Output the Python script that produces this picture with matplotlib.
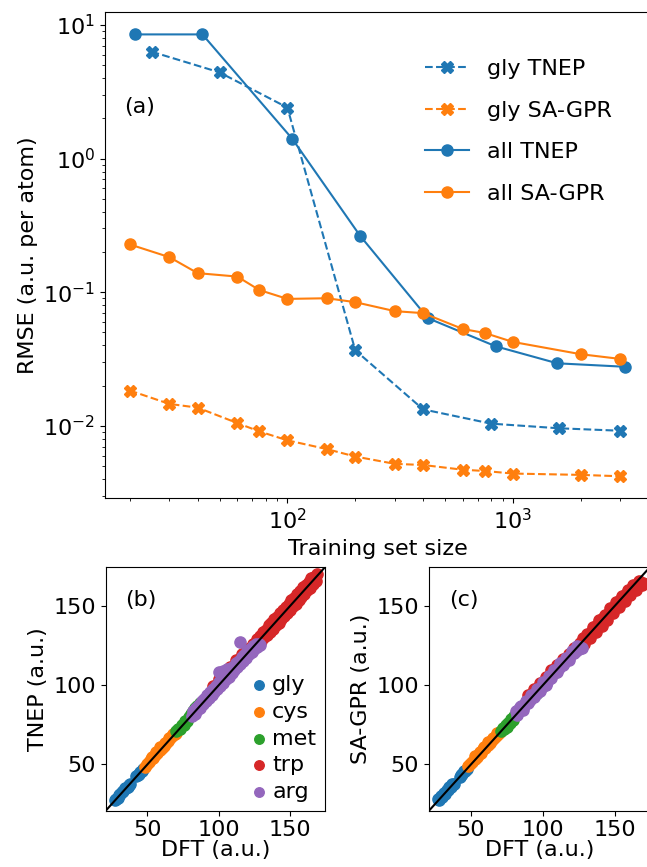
import numpy as np
import matplotlib.pyplot as plt

# ---- (a) learning curves ----
n_gly_tnep = [25, 50, 100, 200, 400, 800, 1600, 3000]
rmse_gly_tnep = [6.31, 4.42, 2.41, 0.0368, 0.0133, 0.0104, 0.0096, 0.0092]

n_all_tnep = [21, 42, 105, 210, 420, 840, 1575, 3150]
rmse_all_tnep = [8.5, 8.5, 1.41, 0.265, 0.064, 0.0394, 0.0294, 0.0277]

n_sagpr = [20, 30, 40, 60, 75, 100, 150, 200, 300, 400, 600, 750, 1000, 2000, 3000]
rmse_gly_sagpr = [0.0184, 0.0146, 0.0137, 0.0105, 0.0091, 0.0078, 0.0067, 0.0059,
                  0.0052, 0.0051, 0.0047, 0.0046, 0.0044, 0.0043, 0.0042]
rmse_all_sagpr = [0.228, 0.183, 0.139, 0.131, 0.104, 0.0892, 0.0902, 0.0843,
                  0.0722, 0.0698, 0.0531, 0.0496, 0.0425, 0.0344, 0.0317]

# ---- (b) TNEP parity ----
gly_dft = [27, 28, 29, 30, 31, 32, 33, 34, 35, 36, 37, 38, 42, 43, 44, 45, 46, 47]
gly_tnep = [27.4, 28.3, 28.6, 30.5, 31.2, 32.6, 33.1, 34.8, 35.2, 35.7, 36.8, 37.5,
            42.6, 43.2, 43.8, 45.4, 45.7, 46.9]
cys_dft = [48, 49.5, 51, 52.5, 54, 55.5, 57, 58.5, 60, 61.5, 63, 64.5, 66, 67.5, 69, 70,
           53, 56, 59, 62, 65, 68]
cys_tnep = [48.6, 50.3, 51.2, 53.4, 54.3, 56.2, 57.4, 59.1, 60.6, 61.8, 63.7, 64.9,
            66.6, 67.8, 69.4, 69.9,
            54.9, 57.8, 60.7, 63.6, 66.5, 69.2]
met_dft = [70, 71.5, 73, 74, 75.5, 76.5, 78, 79, 80.5, 82, 83.5, 85, 87]
met_tnep = [71.2, 72.3, 72.6, 74.9, 75.1, 77.4, 77.6, 79.8, 81.9, 83.6, 85.4, 86.8, 89.0]
trp_dft = [96, 100, 104, 108, 112, 116, 120, 124,
           127, 129, 131, 133, 135, 137, 139, 141, 143, 145, 147, 149, 151, 153, 155,
           157, 159, 161, 163, 165, 167, 169,
           128, 130, 132, 134, 136, 138, 140, 142, 144, 146, 148, 150, 152, 154, 156,
           158, 160, 162, 164, 166, 168]
trp_tnep = [99.5, 103.8, 107.6, 111.2, 116.0, 119.5, 122.8, 126.2,
            129.0, 131.2, 133.5, 135.1, 137.8, 139.3, 141.6, 143.2, 145.9, 147.4, 149.7,
            151.1, 153.8, 155.2, 157.6, 159.3, 161.8, 163.0, 165.4, 167.5, 168.2, 170.1,
            126.4, 127.9, 130.2, 131.6, 133.8, 135.5, 137.9, 139.6, 141.8, 143.5, 145.7,
            147.4, 149.9, 151.3, 153.6, 155.8, 157.4, 159.9, 161.6, 163.8, 165.9]
arg_dft = [81, 83, 85, 87, 89, 91, 93, 95, 97, 99, 101, 103, 105, 107, 109, 111, 113,
           115, 117, 119, 121, 123, 125, 127, 129,
           82, 84, 86, 88, 90, 92, 94, 96, 98, 100, 102, 104, 106, 108, 110, 112, 114,
           116, 118, 120, 122, 124, 126, 128,
           100.5, 103, 106, 108.5, 115]
arg_tnep = [80.6, 82.1, 84.3, 85.9, 88.2, 89.8, 92.1, 93.6, 96.0, 97.7, 99.8, 101.5,
            103.9, 105.4, 107.7, 109.6, 111.8, 113.4, 115.6, 117.3, 119.5, 120.9, 122.8,
            124.1, 125.4,
            83.6, 85.8, 87.4, 89.9, 91.5, 93.8, 95.4, 97.9, 99.6, 102.1, 103.8, 106.2,
            107.6, 109.8, 111.7, 113.9, 115.4, 117.6, 119.2, 121.3, 122.9, 124.6, 125.8,
            126.3,
            108.4, 109.2, 110.3, 111.0, 127.0]

# ---- (c) SA-GPR parity ----
gly2_dft = [27, 28, 29, 30, 31, 32, 33, 34, 35, 36, 37, 38, 42, 43, 44, 45, 46, 47]
gly2_sagpr = [27.8, 27.6, 29.8, 29.6, 31.8, 31.5, 33.7, 33.6, 35.8, 35.5, 37.5, 37.6,
              41.8, 43.5, 43.6, 45.7, 45.5, 47.3]
cys2_dft = [48, 49.5, 51, 52.5, 54, 55.5, 57, 58.5, 60, 61.5, 63, 64.5, 66, 67.5, 69, 70,
            53, 56, 59, 62, 65, 68]
cys2_sagpr = [48.8, 50.4, 51.6, 53.6, 54.5, 56.6, 57.4, 59.6, 60.3, 62.4, 63.5, 65.4,
              66.5, 68.2, 69.3, 70.4,
              55.1, 58.0, 60.8, 63.9, 66.7, 69.6]
met2_dft = [71, 72, 73, 74, 75, 76, 77, 78, 79, 80, 82, 88, 92, 96, 100]
met2_sagpr = [70.9, 72.8, 72.5, 74.8, 73.9, 76.4, 76.2, 78.5, 77.8, 80.4, 81.6, 89.4,
              92.6, 95.1, 99.2]
trp2_dft = [90, 94, 98, 102, 106, 110, 114, 118, 122, 126, 128, 130, 132, 134, 136, 138,
            140, 142, 144, 146, 148, 150, 152, 154, 156, 158, 160, 162, 164, 166, 168, 170,
            129, 133, 137, 141, 145, 149, 153, 157, 161, 165, 169,
            131, 135, 139, 143, 147, 151, 155, 159, 163, 167]
trp2_sagpr = [93.5, 97.6, 101.2, 105.4, 109.3, 112.8, 116.4, 119.8, 123.6, 126.9, 129.5,
              129.8, 131.6, 134.3, 135.8, 137.9, 139.6, 142.2, 143.4, 145.9, 147.3, 149.8,
              150.9, 153.6, 155.1, 157.4, 158.6, 160.7, 161.9, 163.3, 164.1, 164.8,
              126.0, 129.8, 133.4, 137.6, 141.2, 145.5, 149.3, 153.0, 156.8, 160.4, 163.5,
              132.6, 136.8, 140.9, 144.6, 148.7, 152.3, 156.2, 160.1, 163.4, 166.0]
arg2_dft = [81, 83, 85, 87, 89, 91, 93, 95, 97, 99, 101, 103, 105, 107, 109, 111, 113,
            115, 117, 119, 121, 123, 125, 127,
            82, 86, 90, 94, 98, 102, 106, 110, 114, 118, 122, 126,
            84, 88, 92, 96, 100, 104, 108, 112, 116, 120, 124]
arg2_sagpr = [83.4, 84.1, 86.6, 86.8, 89.9, 90.7, 93.6, 94.3, 97.5, 98.2, 101.4, 102.3,
              104.6, 107.5, 108.4, 110.6, 113.3, 114.2, 116.8, 118.5, 120.2, 121.9,
              122.8, 123.6,
              80.9, 84.6, 88.7, 92.4, 96.5, 100.3, 104.4, 108.6, 112.5, 116.2, 120.3, 123.9,
              86.1, 89.8, 94.0, 97.7, 101.9, 105.8, 109.6, 113.8, 117.4, 121.6, 125.0]

plt.rcParams['font.size'] = 16

fig = plt.figure(figsize=(6.47, 8.67), dpi=100)

# top panel
ax = fig.add_axes([0.1623, 0.4252, 0.8423, 0.5606])
ax.plot(n_gly_tnep, rmse_gly_tnep, 'X--', color='tab:blue', markersize=9, label='gly TNEP')
ax.plot(n_sagpr, rmse_gly_sagpr, 'X--', color='tab:orange', markersize=9, label='gly SA-GPR')
ax.plot(n_all_tnep, rmse_all_tnep, 'o-', color='tab:blue', markersize=8, label='all TNEP')
ax.plot(n_sagpr, rmse_all_sagpr, 'o-', color='tab:orange', markersize=8, label='all SA-GPR')
ax.set_xscale('log')
ax.set_yscale('log')
ax.set_xlabel('Training set size')
ax.set_ylabel('RMSE (a.u. per atom)')
ax.text(0.035, 0.805, '(a)', transform=ax.transAxes, va='center')
ax.legend(loc='upper left', bbox_to_anchor=(0.55, 0.945), frameon=False,
          labelspacing=0.97, handlelength=2.0)

colors = ['tab:blue', 'tab:orange', 'tab:green', 'tab:red', 'tab:purple']
names = ['gly', 'cys', 'met', 'trp', 'arg']
lims = (20.7, 174.6)

panels = [
    ([0.1634, 0.0649, 0.339, 0.281], 'TNEP (a.u.)', '(b)',
     [(gly_dft, gly_tnep), (cys_dft, cys_tnep), (met_dft, met_tnep),
      (trp_dft, trp_tnep), (arg_dft, arg_tnep)]),
    ([0.663, 0.0649, 0.3416, 0.281], 'SA-GPR (a.u.)', '(c)',
     [(gly2_dft, gly2_sagpr), (cys2_dft, cys2_sagpr), (met2_dft, met2_sagpr),
      (trp2_dft, trp2_sagpr), (arg2_dft, arg2_sagpr)]),
]

for i, (rect, ylab, tag, sets) in enumerate(panels):
    axp = fig.add_axes(rect)
    for (x, y), c, nm in zip(sets, colors, names):
        axp.scatter(x, y, s=65, color=c, label=nm)
    axp.plot([0, 1], [0, 1], color='black', lw=1.5, transform=axp.transAxes)
    axp.set_xlim(lims)
    axp.set_ylim(lims)
    axp.set_xticks([50, 100, 150])
    axp.set_yticks([50, 100, 150])
    axp.set_xlabel('DFT (a.u.)', labelpad=0)
    axp.set_ylabel(ylab)
    axp.text(0.09, 0.865, tag, transform=axp.transAxes, va='center')
    if i == 0:
        axp.legend(loc='lower right', frameon=False, handletextpad=0.1,
                   labelspacing=0.3, borderaxespad=0.1, borderpad=0.3,
                   handlelength=1.0, markerscale=0.85)

fig.savefig('out.png', dpi=100)
